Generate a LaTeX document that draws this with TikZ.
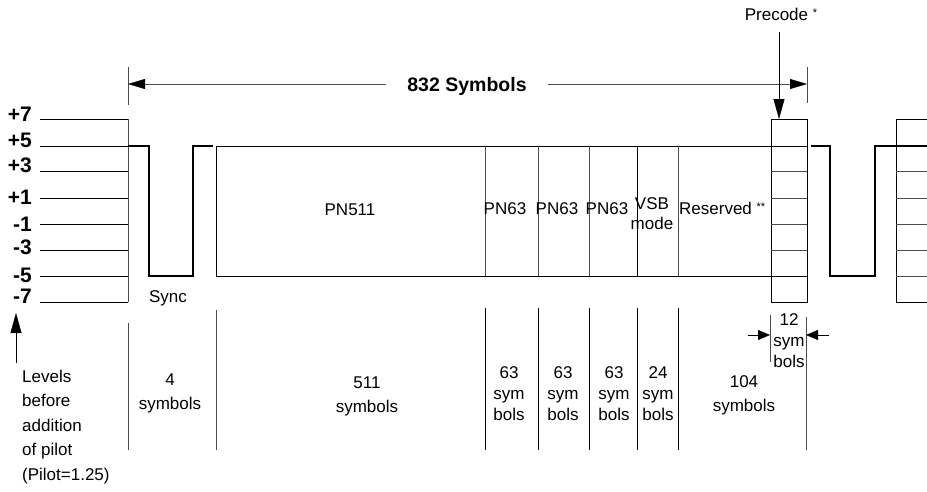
\documentclass[tikz,border=0pt]{standalone}
\usepackage{fontspec}
\setmainfont{Liberation Sans}
\usetikzlibrary{arrows.meta}
\begin{document}
\begin{tikzpicture}[x=1pt,y=-1pt,
    every node/.style={font=\fontsize{17}{21}\selectfont, inner sep=0pt, anchor=base},
    lvl/.style={font=\bfseries\fontsize{21}{22}\selectfont, anchor=base east},
    sig/.style={line width=2.2pt},
    sep/.style={black!70},
    tip/.style={-{Triangle[length=17pt,width=10pt]}},
    longtip/.style={-{Triangle[length=20pt,width=11pt]}},
    smalltip/.style={-{Triangle[length=12pt,width=10pt]}}]
  \useasboundingbox (0,0) rectangle (927,491);
  \draw
    (32,121) node[lvl] (v1){+7}
    (32,147) node[lvl] (v2){+5}
    (32,172) node[lvl] (v3){+3}
    (32,204) node[lvl] (v4){+1}
    (32,231) node[lvl] (v5){-1}
    (32,254) node[lvl] (v6){-3}
    (32,282) node[lvl] (v7){-5}
    (32,303) node[lvl] (v8){-7};
  \draw
    (40,119) coordinate (a1) (128,119) coordinate (b1)
    (40,146) coordinate (a2) (128,146) coordinate (b2)
    (40,171) coordinate (a3) (128,171) coordinate (b3)
    (40,198) coordinate (a4) (128,198) coordinate (b4)
    (40,224) coordinate (a5) (128,224) coordinate (b5)
    (40,250) coordinate (a6) (128,250) coordinate (b6)
    (40,276) coordinate (a7) (128,276) coordinate (b7)
    (40,302) coordinate (a8) (128,302) coordinate (b8);
  \begin{scope}[-]
    \draw (a1) to (b1);
    \draw (a2) to (b2);
    \draw (a3) to (b3);
    \draw (a4) to (b4);
    \draw (a5) to (b5);
    \draw (a6) to (b6);
    \draw (a7) to (b7);
    \draw (a8) to (b8);
    \draw[sep] (b1) to (b8);
  \end{scope}
  \draw[sig] (b2) -- (149,146) -- (149,276) -- (193,276) -- (193,146) -- (213,146);
  \draw (216,146) -- (807,146);
  \draw (216,276) -- (807,276);
  \draw (216,146) -- (216,276);
  \draw[sep] (485,146) -- (485,276);
  \draw[sep] (538,146) -- (538,276);
  \draw[sep] (589,146) -- (589,276);
  \draw (637,146) -- (637,276);
  \draw[sep] (678,146) -- (678,276);
  \draw (771,119) rectangle (807,302);
  \draw[sep] (771,171) -- (807,171);
  \draw[sep] (771,198) -- (807,198);
  \draw[sep] (771,224) -- (807,224);
  \draw[sep] (771,250) -- (807,250);
  \draw[sig] (811,146) -- (830,146) -- (830,276) -- (875,276) -- (875,146) -- (927,146);
  \draw (927,119) -- (896,119) -- (896,302) -- (927,302);
  \draw[sep] (896,171) -- (927,171);
  \draw[sep] (896,198) -- (927,198);
  \draw[sep] (896,224) -- (927,224);
  \draw[sep] (896,250) -- (927,250);
  \draw[sep] (896,276) -- (927,276);
  \draw
    (350,215) node (pn511){PN511}
    (505,214) node (pn1){PN63}
    (557,214) node (pn2){PN63}
    (607,214) node (pn3){PN63}
    (652,229) node[align=center, font=\fontsize{17}{20}\selectfont] (vsb){VSB\\mode}
    (679,214) node[anchor=base west] (res){Reserved \raisebox{4pt}{\fontsize{11}{11}\selectfont **}}
    (168,302) node (sync){Sync};
  \draw
    (128,67) coordinate (t1a) (128,105) coordinate (t1b)
    (807,67) coordinate (t2a) (807,103) coordinate (t2b)
    (128,84) coordinate (t1) (807,84) coordinate (t2)
    (467,91.5) node[font=\bfseries\fontsize{19.5}{22}\selectfont, inner xsep=21pt] (tot){832 Symbols};
  \draw[sep] (t1a) -- (t1b);
  \draw[sep] (t2a) -- (t2b);
  \draw[sep, -{Triangle[length=17pt,width=10pt,fill=black,color=black]}] (tot.west |- t1) -- (t1);
  \draw[sep, -{Triangle[length=17pt,width=10pt,fill=black,color=black]}] (tot.east |- t2) -- (t2);
  \draw
    (781,20) node (pre){Precode \raisebox{4pt}{\fontsize{11}{11}\selectfont *}}
    (779,32) coordinate (pst) (779,119) coordinate (pin);
  \draw[longtip] (pst) -- (pin);
  \draw[sep] (128,323) -- (128,450);
  \draw[sep] (216,310) -- (216,450);
  \draw (485,308) -- (485,450);
  \draw (538,308) -- (538,450);
  \draw (589,308) -- (589,450);
  \draw (637,308) -- (637,450);
  \draw (678,308) -- (678,450);
  \draw[sep] (770,315) -- (770,362);
  \draw[sep] (806,317) -- (806,450);
  \draw
    (748,335) coordinate (ql) (770,335) coordinate (qlt)
    (829,335) coordinate (qr) (806,335) coordinate (qrt);
  \draw[smalltip] (ql) -- (qlt);
  \draw[smalltip] (qr) -- (qrt);
  \draw
    (16,363) coordinate (ub) (16,313) coordinate (ut);
  \draw[longtip] (ub) -- (ut);
  \draw
    (22,480) node[anchor=base west, align=left, font=\fontsize{17}{24.5}\selectfont] (lev){Levels\\before\\addition\\of pilot\\(Pilot=1.25)}
    (170,409) node[align=center, font=\fontsize{17}{24}\selectfont] (n4){4\\symbols}
    (367,412) node[align=center, font=\fontsize{17}{24}\selectfont] (n511){511\\symbols}
    (509,420) node[align=center] (n63a){63\\sym\\bols}
    (563,420) node[align=center] (n63b){63\\sym\\bols}
    (614,420) node[align=center] (n63c){63\\sym\\bols}
    (658,420) node[align=center] (n24){24\\sym\\bols}
    (744,411.5) node[align=center, font=\fontsize{17}{24.5}\selectfont] (n104){104\\symbols}
    (789,367) node[align=center] (n12){12\\sym\\bols};
\end{tikzpicture}
\end{document}
